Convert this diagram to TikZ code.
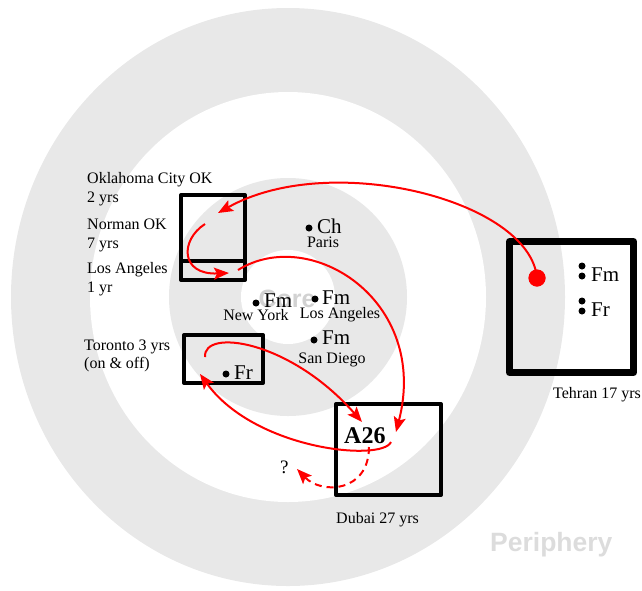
\documentclass[tikz,border=0pt]{standalone}
\usepackage{fontspec}
\setmainfont{Liberation Serif}
\newfontfamily\labsans{Liberation Sans}
\usetikzlibrary{arrows.meta}
\definecolor{ring}{HTML}{E8E8E8}
\definecolor{coretxt}{HTML}{D2D2D2}
\definecolor{peritxt}{HTML}{DCDCDC}
\begin{document}
\begin{tikzpicture}[x=1pt,y=-1pt,
 lab/.style={font=\fontsize{16}{19}\selectfont, inner sep=0, anchor=base west},
 labc/.style={font=\fontsize{16}{19}\selectfont, inner sep=0, anchor=base},
 big/.style={font=\fontsize{21}{24}\selectfont, inner sep=0, anchor=base west},
 pt/.style={circle, fill=black, minimum size=7pt, inner sep=0},
 frame/.style={draw, line width=4pt, inner sep=0, line join=round},
 arr/.style={red, line width=2pt, -{Stealth[length=15pt,width=12pt,inset=3pt]}},
 ghost/.style={font=\labsans\bfseries\fontsize{25}{30}\selectfont, inner sep=0}
]
\useasboundingbox (0,0) rectangle (642,590);
% rings
\fill[ring] (288,297) ellipse [x radius=277, y radius=289];
\fill[white] (288,297) ellipse [x radius=198, y radius=205];
\fill[ring] (288,297) ellipse [x radius=119, y radius=119];
\fill[white] (288,297) circle [radius=47];
\node[ghost, text=coretxt, anchor=base] (core) at (287,307) {Core};
\node[ghost, text=peritxt, anchor=base west, font=\labsans\bfseries\fontsize{26.5}{30}\selectfont] (peri) at (490,551) {Periphery};

% boxes
\node[frame, minimum width=64pt, minimum height=85pt] (okbox) at (213,237.5) {};
\draw[line width=4pt] (181,261) -- (245,261);
\node[frame, minimum width=79pt, minimum height=48pt] (torbox) at (223.5,359) {};
\node[frame, minimum width=105pt, minimum height=91pt] (dubbox) at (388.5,449.5) {};
\node[frame, line width=7pt, minimum width=124pt, minimum height=131pt] (tehbox) at (571.5,307) {};

% left labels
\node[lab] (okc) at (87,183) {Oklahoma City OK};
\node[lab] (okcy) at (87,202) {2 yrs};
\node[lab] (nor) at (87,229) {Norman OK};
\node[lab] (nory) at (87,248) {7 yrs};
\node[lab] (la1) at (87,273) {Los Angeles};
\node[lab] (la1y) at (87,292) {1 yr};
\node[lab] (tor) at (84,350) {Toronto 3 yrs};
\node[lab] (tory) at (84,368) {(on \& off)};

% Toronto Fr
\node[pt] (torpt) at (226,374) {};
\node[big] (torfr) at (234,379) {Fr};

% centre
\node[pt] (chpt) at (309,228) {};
\node[big] (ch) at (317,233) {Ch};
\node[labc] (paris) at (323,247) {Paris};
\node[pt] (nypt) at (256,303) {};
\node[big] (nyfm) at (264,307) {Fm};
\node[labc] (ny) at (256,320) {New York};
\node[pt] (lapt) at (315,299) {};
\node[big] (lafm) at (322,304) {Fm};
\node[labc] (la2) at (340,318) {Los Angeles};
\node[pt] (sdpt) at (314,340) {};
\node[big] (sdfm) at (322,344) {Fm};
\node[labc] (sd) at (332,363) {San Diego};

% Tehran
\node[pt] (tfm1) at (582,266) {};
\node[pt] (tfm2) at (582,276) {};
\node[big] (tfm) at (591,281) {Fm};
\node[pt] (tfr1) at (582,301) {};
\node[pt] (tfr2) at (582,311) {};
\node[big] (tfr) at (591,316) {Fr};
\node[lab] (teh) at (553,398) {Tehran 17 yrs};

% Dubai
\node[font=\bfseries\fontsize{24}{28}\selectfont, inner sep=0, anchor=base west] (a26) at (344,443) {A26};
\node[lab] (dub) at (336,523) {Dubai 27 yrs};
\node[font=\fontsize{19}{22}\selectfont, inner sep=0, anchor=base west] (q) at (280,473) {?};

% arrow end points
\node[circle, fill=red, minimum size=17pt, inner sep=0] (tdot) at (537,278) {};
\coordinate (a1e) at (218,213);
\coordinate (a2s) at (205,224);
\coordinate (a2e) at (229,273);
\coordinate (a3s) at (238,270);
\coordinate (a3e) at (396,432);
\coordinate (a4s) at (205,357);
\coordinate (a4e) at (362,422);
\coordinate (a5s) at (391,442);
\coordinate (a5e) at (200,374);
\coordinate (a6s) at (369,447);
\coordinate (a6e) at (297,469);

\draw[arr] (tdot.center) .. controls (530,200) and (330,150) .. (a1e);
\draw[arr] (a2s) .. controls (180,240) and (180,275) .. (a2e);
\draw[arr] (a3s) .. controls (310,225) and (430,300) .. (a3e);
\draw[arr] (a4s) .. controls (203,328) and (290,340) .. (a4e);
\draw[arr] (a5s) .. controls (382,462) and (255,450) .. (a5e);
\draw[arr, dash pattern=on 7pt off 5pt] (a6s) .. controls (369,492) and (322,495) .. (a6e);
\node[circle, fill=red, minimum size=17pt, inner sep=0] (tdot2) at (tdot) {};
\end{tikzpicture}
\end{document}
